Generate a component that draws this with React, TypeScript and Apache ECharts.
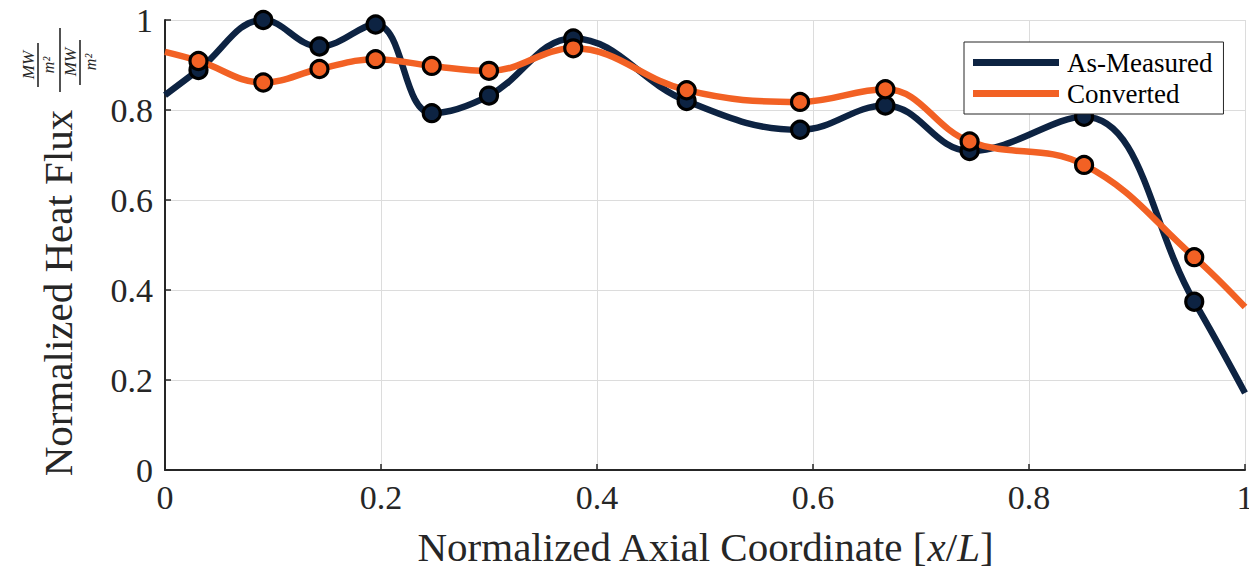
import React, { useEffect, useRef } from "react";
import * as echarts from "echarts";

// Measurement stations (normalized axial coordinate)
const stationX = [0.031, 0.091, 0.143, 0.195, 0.247, 0.3, 0.378, 0.483, 0.588, 0.667, 0.745, 0.851, 0.953];
// Normalized heat flux values at the stations
const measured = [0.889, 1.0, 0.941, 0.99, 0.793, 0.832, 0.959, 0.82, 0.756, 0.81, 0.709, 0.785, 0.374];
const converted = [0.909, 0.861, 0.891, 0.913, 0.898, 0.887, 0.937, 0.844, 0.818, 0.846, 0.73, 0.678, 0.473];
// Curve values at the domain ends (x = 0 and x = 1)
const measuredEnds = [0.833, 0.171];
const convertedEnds = [0.929, 0.362];

const seriesNames = ["As-Measured", "Converted"];
const xTicks = [0, 0.2, 0.4, 0.6, 0.8, 1];

const NAVY = "#0d2342";
const ORANGE = "#f26124";
const FONT = "'Liberation Serif', 'Times New Roman', serif";

function buildData(vals: number[], ends: number[]) {
  const pts: any[] = [{ value: [0, ends[0]], symbol: "none" }];
  stationX.forEach((x, i) => pts.push({ value: [x, vals[i]] }));
  pts.push({ value: [1, ends[1]], symbol: "none" });
  return pts;
}

export default function App() {
  const ref = useRef<HTMLDivElement>(null);
  useEffect(() => {
    if (!ref.current) return;
    const chart = echarts.init(ref.current, null, { renderer: "svg" });
    const axisCommon = {
      type: "value",
      min: xTicks[0],
      max: xTicks[xTicks.length - 1],
      interval: 0.2,
      axisLine: { show: true, onZero: false, lineStyle: { color: "#262626", width: 2 } },
      axisTick: { show: true, inside: true, length: 6, lineStyle: { color: "#262626", width: 1.5 } },
      splitLine: { show: true, lineStyle: { color: "#dcdcdc", width: 1 } },
    };
    const labelFont = { fontFamily: FONT, fontSize: 34, color: "#262626" };
    const mkSeries = (name: string, color: string, vals: number[], ends: number[]) => ({
      type: "line",
      name,
      data: buildData(vals, ends),
      smooth: 0.4,
      symbol: "circle",
      symbolSize: 17,
      lineStyle: { color, width: 6.5 },
      itemStyle: { color, borderColor: "#000", borderWidth: 3.2 },
      emphasis: { disabled: true },
    });
    const fracText = (x: number, y: number, text: string, size: number) => ({
      type: "text",
      x,
      y,
      rotation: Math.PI / 2,
      style: {
        text,
        font: `italic ${size}px ${FONT}`,
        fill: "#262626",
        textAlign: "center",
        align: "center",
        textVerticalAlign: "middle",
        verticalAlign: "middle",
      },
    });
    const bar = (x: number, y1: number, y2: number) => ({
      type: "line",
      shape: { x1: x, y1, x2: x, y2 },
      style: { stroke: "#262626", lineWidth: 1.6 },
    });
    chart.setOption({
      animation: false,
      grid: { left: 165, right: 4, top: 20, bottom: 99, containLabel: false, outerBoundsMode: "none" },
      xAxis: {
        ...axisCommon,
        axisLabel: { ...labelFont, margin: 10 },
        name: "Normalized Axial Coordinate [{i|x}/{i|L}]",
        nameLocation: "middle",
        nameGap: 56,
        nameTextStyle: {
          fontFamily: FONT,
          fontSize: 41,
          color: "#262626",
          rich: { i: { fontFamily: FONT, fontSize: 41, fontStyle: "italic", color: "#262626" } },
        },
      },
      yAxis: {
        ...axisCommon,
        axisLabel: { ...labelFont, margin: 12 },
      },
      legend: {
        data: seriesNames,
        orient: "vertical",
        left: 964,
        top: 42,
        icon: "rect",
        itemWidth: 86,
        itemHeight: 7,
        itemGap: 0,
        padding: [5, 11, 5, 9],
        backgroundColor: "#fff",
        borderColor: "#262626",
        borderWidth: 1,
        itemStyle: { borderWidth: 0 },
        textStyle: { fontFamily: FONT, fontSize: 27, color: "#000", lineHeight: 31, padding: [0, 0, 0, 3] },
      },
      graphic: [
        {
          type: "text",
          x: 58,
          y: 293,
          rotation: Math.PI / 2,
          style: {
            text: "Normalized Heat Flux",
            font: `41px ${FONT}`,
            fill: "#262626",
            textAlign: "center",
            align: "center",
            textVerticalAlign: "middle",
            verticalAlign: "middle",
          },
        },
        fracText(28, 65, "MW", 17),
        bar(38, 43, 87),
        fracText(48, 65, "m²", 16),
        bar(60, 28, 92),
        fracText(70, 62, "MW", 17),
        bar(80, 40, 85),
        fracText(90, 62, "m²", 16),
      ],
      series: [
        mkSeries(seriesNames[0], NAVY, measured, measuredEnds),
        mkSeries(seriesNames[1], ORANGE, converted, convertedEnds),
      ],
    });
    return () => chart.dispose();
  }, []);
  return (
    <div
      ref={ref}
      style={{ position: "fixed", left: 0, top: 0, width: 1249, height: 569, background: "#fff" }}
    />
  );
}
